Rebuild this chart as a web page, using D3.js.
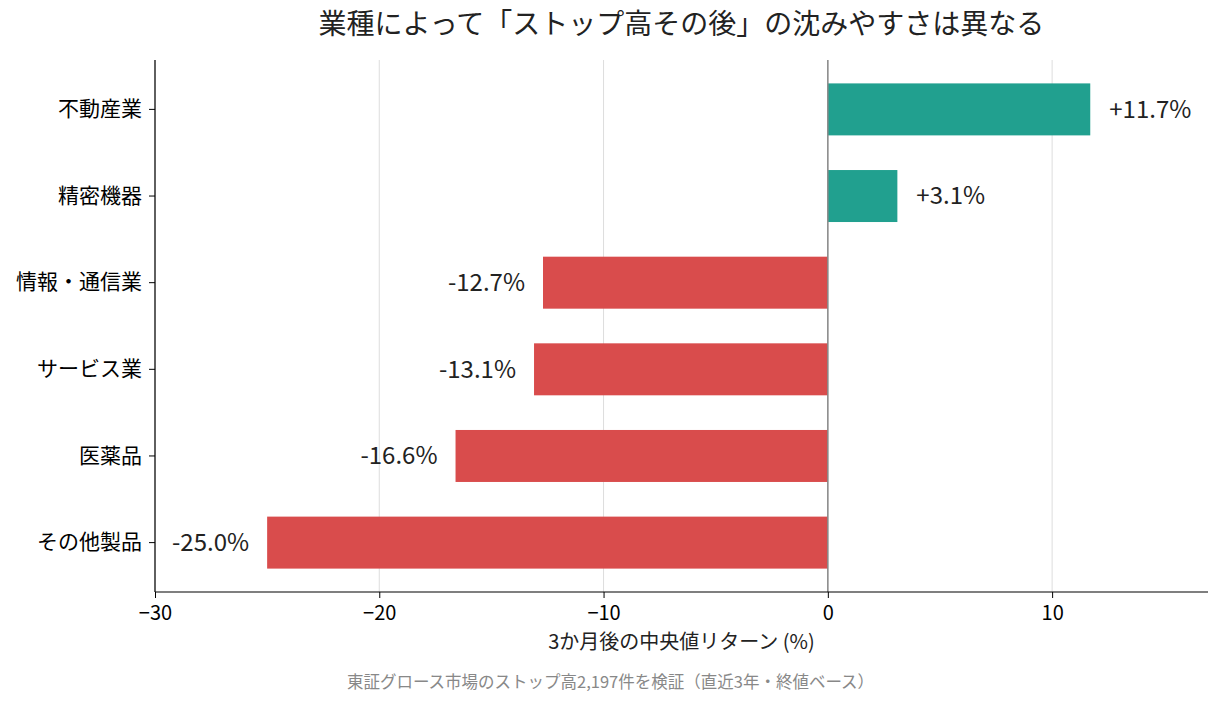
<!DOCTYPE html>
<html>
<head>
<meta charset="utf-8">
<script src="https://cdn.jsdelivr.net/npm/d3@7"></script>
<style>
  body { margin: 0; background: #fff; }
  text { font-family: "Noto Sans CJK JP", "Noto Sans", sans-serif; }
</style>
</head>
<body>
<div id="vis"></div>
<script>
// data
const industries = ["不動産業", "精密機器", "情報・通信業", "サービス業", "医薬品", "その他製品"]
const medianReturns = [11.7, 3.1, -12.7, -13.1, -16.6, -25.0]
const xTicks = [-30, -20, -10, 0, 10]

const width = 1221
const height = 704
const margin = { top: 60, right: 13, bottom: 112, left: 155 }

const svg = d3.select("#vis")
    .append("svg")
    .attr("width", width)
    .attr("height", height)

const x = d3.scaleLinear()
    .domain([-30, 16.95])
    .range([margin.left, width - margin.right])

const y = d3.scaleBand()
    .domain(industries)
    .range([margin.top, height - margin.bottom])
    .paddingInner(0.4)
    .paddingOuter(0.27)

// grid lines
svg.append("g")
    .selectAll("line")
    .data(xTicks)
    .enter()
    .append("line")
    .attr("x1", d => x(d))
    .attr("x2", d => x(d))
    .attr("y1", margin.top)
    .attr("y2", height - margin.bottom)
    .attr("stroke", "#dddddd")
    .attr("stroke-width", 1)

// bars
svg.append("g")
    .selectAll("rect")
    .data(industries)
    .enter()
    .append("rect")
    .attr("x", (d, i) => x(Math.min(0, medianReturns[i])))
    .attr("width", (d, i) => Math.abs(x(medianReturns[i]) - x(0)))
    .attr("y", d => y(d))
    .attr("height", y.bandwidth())
    .attr("fill", (d, i) => medianReturns[i] >= 0 ? "#21a08f" : "#d94c4c")

// zero line
svg.append("line")
    .attr("x1", x(0))
    .attr("x2", x(0))
    .attr("y1", margin.top)
    .attr("y2", height - margin.bottom)
    .attr("stroke", "#888888")
    .attr("stroke-width", 1.5)

// value labels
svg.append("g")
    .selectAll("text")
    .data(industries)
    .enter()
    .append("text")
    .attr("x", (d, i) => medianReturns[i] >= 0 ? x(medianReturns[i]) + 19 : x(medianReturns[i]) - 18)
    .attr("y", d => y(d) + y.bandwidth() / 2)
    .attr("dy", "0.35em")
    .attr("text-anchor", (d, i) => medianReturns[i] >= 0 ? "start" : "end")
    .attr("font-size", 24)
    .attr("fill", "#222")
    .text((d, i) => (medianReturns[i] >= 0 ? "+" : "") + medianReturns[i].toFixed(1) + "%")

// x axis
const xAxis = svg.append("g")
    .attr("transform", `translate(0, ${height - margin.bottom})`)
    .call(d3.axisBottom(x).tickValues(xTicks).tickSize(6).tickPadding(8)
        .tickFormat(d => d < 0 ? "\u2212" + Math.abs(d) : d))
xAxis.select(".domain").attr("stroke", "#000").attr("stroke-width", 1.2)
    .attr("d", `M${margin.left},0H${width - margin.right}`)
xAxis.selectAll("text").attr("font-size", 20).attr("fill", "#000")
    .style("font-family", '"Noto Sans CJK JP", sans-serif')

// y axis
const yAxis = svg.append("g")
    .attr("transform", `translate(${margin.left}, 0)`)
    .call(d3.axisLeft(y).tickSize(6).tickPadding(7))
yAxis.select(".domain").attr("stroke", "#000").attr("stroke-width", 1.2)
    .attr("d", `M0,${margin.top}V${height - margin.bottom}`)
yAxis.selectAll("text").attr("font-size", 21).attr("fill", "#000")
    .style("font-family", '"Noto Sans CJK JP", sans-serif')

// title
svg.append("text")
    .attr("x", (margin.left + width - margin.right) / 2)
    .attr("y", 34)
    .attr("text-anchor", "middle")
    .attr("font-size", 28)
    .attr("fill", "#222")
    .text("業種によって「ストップ高その後」の沈みやすさは異なる")

// x label
svg.append("text")
    .attr("x", (margin.left + width - margin.right) / 2)
    .attr("y", 649)
    .attr("text-anchor", "middle")
    .attr("font-size", 20)
    .attr("fill", "#222")
    .text("3か月後の中央値リターン (%)")

// footnote
svg.append("text")
    .attr("x", width / 2)
    .attr("y", 688)
    .attr("text-anchor", "middle")
    .attr("font-size", 16.5)
    .attr("fill", "#888")
    .text("東証グロース市場のストップ高2,197件を検証（直近3年・終値ベース）")
</script>
</body>
</html>
